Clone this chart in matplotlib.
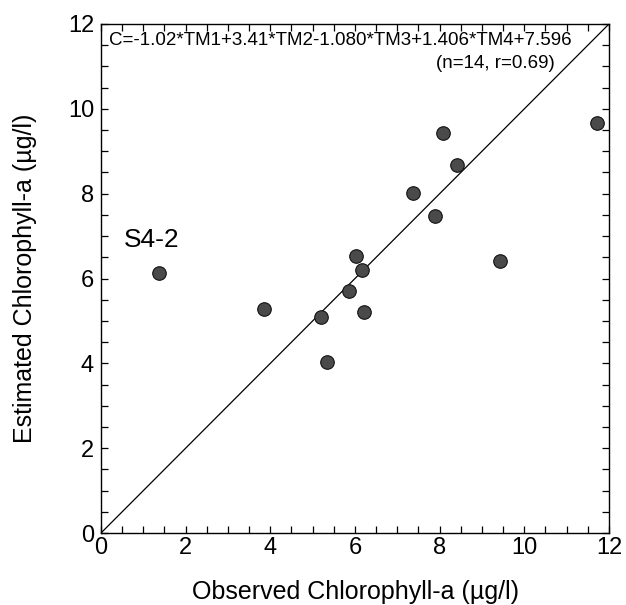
import matplotlib
matplotlib.use("Agg")
import matplotlib.pyplot as plt
from matplotlib.ticker import MultipleLocator

plt.rcParams["font.family"] = ["Liberation Sans", "DejaVu Sans"]

# observed vs estimated chlorophyll-a (ug/l)
observed = [8.07, 8.42, 7.36, 7.89, 6.02, 6.17, 9.43, 1.38, 5.87, 3.86, 5.20, 6.22, 5.35, 11.71]
estimated = [9.42, 8.68, 8.02, 7.47, 6.53, 6.20, 6.42, 6.14, 5.70, 5.29, 5.09, 5.22, 4.03, 9.67]
label_point = "S4-2"
equation = "C=-1.02*TM1+3.41*TM2-1.080*TM3+1.406*TM4+7.596"
stats = "(n=14, r=0.69)"

fig = plt.figure(figsize=(6.26, 6.05), dpi=100)
ax = fig.add_axes([101 / 626, 1 - 533 / 605, 508 / 626, 509 / 605])

ax.plot([0, 12], [0, 12], color="black", linewidth=0.9)
ax.scatter(observed, estimated, s=95, color="#4a4a4a", edgecolors="#111111",
           linewidths=0.8, zorder=3)

ax.text(0.55, 6.9, label_point, fontsize=19, va="center", ha="left")
ax.text(0.2, 11.6, equation, fontsize=13.5, va="center", ha="left")
ax.text(10.72, 11.06, stats, fontsize=13.5, va="center", ha="right")

ax.set_xlim(0, 12)
ax.set_ylim(0, 12)
ax.xaxis.set_major_locator(MultipleLocator(2))
ax.yaxis.set_major_locator(MultipleLocator(2))
ax.xaxis.set_minor_locator(MultipleLocator(0.5))
ax.yaxis.set_minor_locator(MultipleLocator(0.5))
ax.tick_params(which="both", direction="in", top=True, right=True,
               length=5, width=0.9, labelsize=17)
ax.tick_params(axis="x", pad=3)
ax.tick_params(axis="y", pad=5)
for s in ax.spines.values():
    s.set_linewidth(1.0)

ax.set_xlabel("Observed Chlorophyll-a (\u00b5g/l)", fontsize=18, va="center")
ax.set_ylabel("Estimated Chlorophyll-a (\u00b5g/l)", fontsize=18, va="center")
ax.xaxis.set_label_coords(0.5, -0.116)
ax.yaxis.set_label_coords(-0.15, 0.5)

fig.savefig("out.png", dpi=100)
